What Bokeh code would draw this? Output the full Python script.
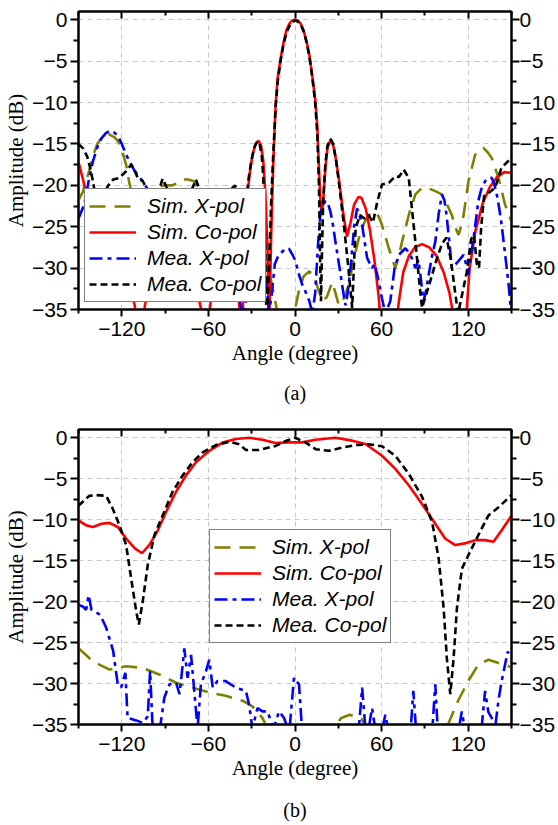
from bokeh.plotting import figure
from bokeh.models import (Range1d, LinearAxis, FixedTicker, Legend, LegendItem)
from bokeh.layouts import column
from bokeh.embed import file_html
from bokeh.resources import INLINE

# ---------------- data: panel (a) ----------------
a_simx_x = [-150, -147, -143, -140, -137, -133, -129, -125, -122, -119, -117, -115, -113, -110, -105, -100,
            -95, -90, -85, -82, -78, -74, -70, -67, -64, -60, -55, -50, -45, -40, -35, -30, -25, -22,
            -19, -16, -12, -8, -4, 0, 3, 6, 9.7, 13, 16, 19, 22, 25.8, 28, 30.4, 33, 37.3, 40, 44.2,
            48, 51, 55.7, 58, 60.3, 65, 69.5, 72, 74.2, 78.8, 83.4, 88, 93, 97.2, 101.8, 105, 108.7,
            111, 113.3, 115, 116.8, 120.2, 124.8, 128, 130.6, 133.5, 136.3, 141, 145.5, 150]
a_simx_y = [-21.8, -20.8, -18.5, -16.5, -15.0, -14.0, -13.8, -14.2, -14.8, -16.3, -17.5, -19.5, -21.0, -21.5,
            -21.0, -20.5, -20.2, -20.0, -20.0, -19.8, -19.3, -19.3, -19.5, -20.5, -22.0, -24.0, -26.0,
            -28.0, -30.0, -32.0, -34.0, -33.0, -31.0, -29.5, -29.5, -32.0, -35.5, -37.0, -36.0, -35.0,
            -32.5, -31.0, -30.4, -30.8, -32.5, -34.0, -33.5, -31.7, -33.0, -34.5, -34.0, -32.0, -29.5,
            -26.4, -24.5, -23.6, -23.2, -23.8, -24.8, -27.6, -30.0, -28.5, -26.8, -23.6, -21.1, -20.3,
            -20.4, -20.7, -21.1, -22.2, -23.6, -25.0, -26.0, -25.0, -23.6, -19.5, -16.3, -15.6, -15.5,
            -16.0, -16.7, -19.1, -22.3, -24.4]

a_simco_x = [-150, -147, -144, -140, -135, -130, -125, -120, -115, -111, -108, -104, -100, -95, -90, -85,
             -80, -75, -70, -65, -62, -58, -54, -50, -46, -42, -39, -37, -35, -33, -31, -29, -27, -25.3,
             -23.5, -22, -20.5, -19, -18, -16.5, -15, -13.4, -12, -10, -8, -6, -4, -2, 0, 2, 4, 6, 8,
             10, 12, 14, 15.5, 16.6, 17.5, 18.5, 19.5, 21, 22.5, 24.6, 26.5, 28.5, 31, 33.5, 36, 38.5,
             41, 44, 46, 49, 52, 55, 58, 60, 62, 66, 70, 72, 75, 79, 83, 88, 93, 98, 103, 107, 110, 113,
             117, 119, 121, 125, 130, 135, 140, 145, 150]
a_simco_y = [-17.2, -19.2, -21.5, -24.0, -26.5, -28.0, -29.0, -30.0, -32.0, -34.5, -42.0, -34.5, -31.0,
             -28.5, -27.0, -26.5, -27.0, -28.5, -31.0, -35.0, -42.0, -33.0, -28.0, -26.0, -26.0, -28.0,
             -33.0, -40.0, -28.0, -21.2, -18.0, -16.0, -14.9, -14.6, -15.2, -17.0, -21.0, -28.0, -38.0,
             -26.0, -17.0, -10.2, -7.0, -4.7, -2.8, -1.3, -0.5, -0.1, 0.0, -0.1, -0.5, -1.3, -2.6, -4.3,
             -6.8, -9.6, -13.0, -18.0, -21.5, -23.5, -22.0, -18.0, -15.5, -14.5, -15.2, -17.0, -20.0,
             -23.5, -26.2, -24.5, -22.3, -21.4, -21.5, -22.8, -25.5, -29.0, -33.5, -38.0, -45.0, -50.0,
             -37.0, -34.0, -30.5, -28.5, -27.5, -27.1, -27.5, -28.5, -30.5, -33.0, -36.0, -45.0, -40.0,
             -35.0, -30.0, -25.5, -22.2, -20.2, -19.0, -18.4, -18.5]

a_meax_x = [-150, -146, -143, -140, -137, -134, -131, -128.5, -125.5, -122.8, -120, -117, -114, -111, -108,
            -105.5, -102, -99, -95, -90, -80, -70, -60, -50, -40, -36, -30, -25, -22, -20, -18, -16, -14,
            -11.5, -8.75, -6, -4, -2, 0, 2.8, 5, 7.4, 10, 12, 14, 16, 17.7, 19.5, 21.2, 23, 24.6, 26.5,
            28, 31.6, 33.5, 35, 36.5, 38.5, 41, 43, 45, 46.5, 50, 53.4, 55, 57, 60.3, 62.6, 66, 69, 71.9,
            76.5, 80, 83.4, 85.5, 87, 89, 90.5, 92.6, 95, 97.2, 99.5, 101.8, 103.5, 105, 107, 108.7, 111,
            113, 116.8, 118.5, 120, 121.5, 123.7, 125.5, 127, 129, 131.7, 134, 136.3, 138, 139.8, 141.5,
            143.2, 145, 146.7, 148, 149, 150]
a_meax_y = [-24.0, -22.3, -19.5, -17.1, -15.4, -14.3, -13.7, -13.4, -13.6, -14.0, -15.0, -16.3, -17.3,
            -18.3, -19.0, -19.5, -20.5, -22.0, -24.0, -26.0, -28.0, -30.0, -27.0, -30.0, -33.0, -35.5,
            -31.0, -33.0, -34.0, -31.0, -35.5, -33.0, -29.5, -28.5, -28.0, -27.6, -27.7, -28.3, -29.0,
            -30.8, -32.0, -32.9, -34.0, -35.5, -33.0, -27.0, -23.2, -22.3, -21.9, -22.3, -23.2, -25.0,
            -26.8, -30.8, -33.0, -34.5, -33.0, -30.0, -25.0, -22.8, -23.8, -24.8, -28.8, -30.0, -29.5,
            -30.8, -33.7, -35.5, -34.0, -30.0, -28.4, -27.6, -28.4, -30.0, -29.0, -31.0, -34.0, -33.0,
            -30.8, -28.5, -26.8, -23.5, -21.1, -21.8, -23.6, -27.0, -30.0, -29.6, -29.2, -28.4, -29.5,
            -30.8, -29.0, -26.4, -24.0, -21.9, -20.5, -19.5, -19.1, -19.1, -19.8, -21.1, -22.8, -24.8,
            -27.5, -30.0, -32.0, -34.0, -35.5]

a_meaco_x = [-150, -147, -144, -142, -140, -138, -135, -132, -129.7, -126, -121.6, -117, -113.5, -111,
             -109, -105.5, -102, -99, -95, -91.7, -88, -84, -78, -74, -71, -68.6, -66, -62, -55, -48,
             -43.3, -41.5, -40, -37, -34, -32, -30, -28, -26, -24.5, -23, -22, -21, -20, -19.5, -18,
             -16.5, -15, -13.4, -12, -10, -8, -6, -4, -2, 0, 2, 4, 6, 8, 10, 12, 14, 15.5, 16.6, 17.5,
             18, 18.7, 19.5, 21, 22.5, 24.6, 26.5, 28.5, 31, 34, 37, 39.6, 41, 42, 45, 48, 51, 54, 57,
             60.3, 65, 69.5, 72, 75.3, 78.8, 81, 83.4, 86.8, 88, 93, 98, 102, 105, 108, 111, 113, 116,
             119, 122, 124, 126, 127.5, 129, 131, 135, 138.6, 143, 147, 150]
a_meaco_y = [-15.0, -15.5, -16.5, -17.8, -19.5, -21.5, -22.0, -21.0, -20.1, -19.3, -19.1, -18.3, -17.5,
             -18.2, -19.1, -19.5, -20.6, -22.0, -21.0, -19.2, -20.6, -22.0, -21.5, -21.0, -20.3, -19.3,
             -20.6, -23.0, -22.0, -21.0, -20.3, -20.0, -20.7, -24.0, -22.0, -19.0, -16.8, -15.3, -14.7,
             -15.0, -16.5, -19.0, -24.0, -34.0, -38.0, -30.0, -22.0, -16.0, -10.5, -7.5, -5.0, -3.0,
             -1.6, -0.8, -0.3, -0.1, -0.2, -0.6, -1.4, -2.7, -4.5, -7.0, -10.0, -14.0, -20.0, -30.0,
             -34.0, -28.0, -22.0, -17.5, -15.2, -14.4, -15.0, -17.0, -20.5, -25.0, -30.0, -34.8, -29.0,
             -25.2, -23.6, -24.0, -23.6, -24.5, -22.0, -19.9, -19.7, -18.9, -19.0, -18.1, -19.1, -22.8,
             -26.8, -32.9, -34.8, -32.0, -29.0, -27.0, -26.3, -29.0, -33.0, -35.5, -33.0, -30.5, -26.5,
             -26.0, -29.5, -30.0, -25.0, -21.3, -20.8, -20.3, -17.9, -17.2, -16.7]

# ---------------- data: panel (b) ----------------
b_simx_x = [-150, -140, -128.5, -117, -105.5, -94, -82.4, -71, -59.4, -48, -36.4, -29.5, -22.6, -19, -10,
            0, 10, 20, 27, 32, 38, 46, 50, 60, 80, 100, 106, 113, 120, 127, 134, 141, 148, 150]
b_simx_y = [-25.7, -27.3, -28.3, -27.9, -28.1, -28.9, -29.9, -30.5, -31.1, -31.5, -32.1, -32.8, -34.2,
            -35.5, -38.0, -40.0, -39.0, -37.0, -35.5, -34.2, -33.8, -34.3, -35.5, -38.0, -40.0, -37.0,
            -35.0, -32.1, -29.7, -27.7, -27.1, -27.5, -27.9, -28.0]

b_simco_x = [-150, -144.6, -140, -134, -128.5, -122.8, -117, -111, -106, -101, -95, -89.4, -82.4, -75.5,
             -68.6, -59.4, -50.2, -41, -31.8, -22.6, -13.4, -4.1, 5, 14.3, 28, 39.6, 48.8, 60.3, 69.5,
             78.8, 88, 97.2, 104, 111, 117.7, 124.8, 131.7, 137.5, 143.2, 150]
b_simco_y = [-10.1, -10.7, -10.9, -10.5, -10.4, -10.9, -12.3, -13.5, -14.1, -13.1, -11.3, -9.1, -6.6,
             -4.6, -3.0, -1.6, -0.6, -0.16, 0.0, -0.25, -0.65, -0.57, -0.57, -0.25, 0.0, -0.36, -0.77,
             -2.2, -3.8, -5.8, -8.1, -10.5, -12.3, -13.1, -12.9, -12.5, -12.5, -12.7, -11.3, -9.5]

b_meax_x = [-150, -147, -144.7, -143, -141, -135, -130.8, -126, -122.8, -120.5, -117.5, -116, -110, -105.5,
            -102, -100.4, -98.6, -94, -90.5, -87, -82.4, -80, -77.8, -76.7, -74.4, -72, -69.8, -67.5,
            -65.2, -61.7, -59.4, -57, -53.7, -48, -41, -34, -31.8, -29.5, -26, -22.6, -19, -15, -11,
            -7.6, -4, -0.7, 2.8, 5, 20, 30, 44, 46.5, 49, 51, 53.4, 56, 60, 62.6, 65, 75, 80, 82, 84,
            95, 97.2, 99, 113, 115.6, 118, 129, 131.7, 134, 136.3, 138.6, 141, 143.2, 147.4, 150]
b_meax_y = [-20.4, -20.6, -21.0, -19.2, -21.0, -21.6, -23.2, -26.0, -30.1, -30.5, -28.7, -34.2, -34.5,
            -34.8, -34.0, -28.5, -35.5, -36.0, -31.7, -30.1, -29.9, -31.3, -27.7, -25.7, -29.3, -26.5,
            -30.9, -35.5, -30.1, -28.5, -27.1, -30.5, -29.7, -29.7, -30.5, -30.9, -32.6, -35.5, -33.0,
            -33.4, -33.4, -35.5, -33.4, -34.2, -36.0, -29.3, -30.1, -36.0, -38.0, -37.0, -36.0, -30.5,
            -36.0, -35.5, -33.0, -36.0, -36.0, -33.8, -36.0, -38.0, -36.0, -30.9, -36.0, -36.0, -30.1,
            -36.0, -36.0, -33.4, -36.0, -36.0, -30.9, -33.5, -34.2, -35.5, -32.0, -29.7, -26.1, -26.9]

b_meaco_x = [-150, -142.6, -138, -130.8, -126.2, -121.6, -117, -113.5, -110, -108.2, -105.5, -102, -97.4,
             -91.7, -84.8, -77.8, -71, -64, -54.8, -45.6, -38.7, -34, -24.9, -13.4, -6.4, 0, 7.4, 14.3,
             23.5, 32.7, 41.9, 51, 60.3, 69.5, 78.8, 88, 95, 99.5, 103, 105.2, 107.6, 109.9, 112.2,
             115.6, 120.2, 127, 134, 141, 150]
b_meaco_y = [-8.3, -7.1, -7.0, -7.1, -8.7, -10.7, -13.1, -17.2, -21.2, -22.8, -20.0, -15.5, -11.9, -9.5,
             -6.6, -4.6, -3.0, -1.8, -0.9, -0.5, -0.8, -1.5, -1.5, -1.0, -0.4, 0.0, -0.6, -1.4, -1.6,
             -1.2, -0.9, -0.8, -1.05, -2.2, -4.4, -7.2, -10.3, -14.7, -20.8, -26.9, -31.3, -26.9, -20.8,
             -16.0, -14.3, -11.9, -9.5, -8.5, -7.0]

x_major = [-120, -60, 0, 60, 120]
x_minor = [-150, -90, -30, 30, 90, 150]
y_major = [0, -5, -10, -15, -20, -25, -30, -35]
y_minor = [-2.5, -7.5, -12.5, -17.5, -22.5, -27.5, -32.5]

names = ["Sim. X-pol", "Sim. Co-pol", "Mea. X-pol", "Mea. Co-pol"]
colors = ["#808000", "#ff0000", "#0000ff", "#000000"]
dashes = ["16 9", "solid", "13 5 4 5", "7 4"]

TICK_FONT = "Liberation Sans"
SERIF = "Liberation Serif"


def style_axis(ax):
    ax.axis_line_width = 2
    ax.axis_line_color = "black"
    ax.major_tick_line_width = 2
    ax.minor_tick_line_width = 2
    ax.major_tick_line_color = "black"
    ax.minor_tick_line_color = "black"
    ax.major_label_text_font = TICK_FONT
    ax.major_label_text_font_size = "21px"
    ax.major_label_text_color = "black"
    ax.axis_label_text_font = SERIF
    ax.axis_label_text_font_size = "21px"
    ax.axis_label_text_font_style = "normal"
    ax.axis_label_text_color = "black"


def make_panel(series, height, top, bottom, tag, tag_standoff, legend_loc):
    p = figure(width=558, height=height, output_backend="svg", toolbar_location=None,
               x_range=Range1d(-150, 150), y_range=Range1d(-35, 1),
               min_border_left=77, min_border_right=41, min_border_top=top,
               min_border_bottom=bottom, x_axis_location=None, y_axis_location=None)
    p.outline_line_color = "black"
    p.outline_line_width = 2
    p.background_fill_color = "white"
    p.border_fill_color = "white"

    xt = FixedTicker(ticks=x_major, minor_ticks=x_minor)
    yt = FixedTicker(ticks=y_major, minor_ticks=y_minor)

    xb = LinearAxis(ticker=xt, axis_label="Angle (degree)")
    style_axis(xb)
    xb.major_tick_in, xb.major_tick_out = 0, 7
    xb.minor_tick_in, xb.minor_tick_out = 0, 4
    xb.major_label_standoff = 5
    xb.axis_label_standoff = 2
    p.add_layout(xb, "below")

    # panel tag "(a)" / "(b)" as the label of a bare, tick-less axis below the first one
    tag_ax = LinearAxis(ticker=FixedTicker(ticks=[], minor_ticks=[]), axis_label=tag)
    style_axis(tag_ax)
    tag_ax.axis_line_color = None
    tag_ax.major_tick_in, tag_ax.major_tick_out = 0, 0
    tag_ax.minor_tick_in, tag_ax.minor_tick_out = 0, 0
    tag_ax.major_label_standoff = 0
    tag_ax.axis_label_standoff = tag_standoff
    tag_ax.axis_label_text_font_size = "20px"
    p.add_layout(tag_ax, "below")

    xa = LinearAxis(ticker=xt)
    style_axis(xa)
    xa.major_tick_in, xa.major_tick_out = 7, 0
    xa.minor_tick_in, xa.minor_tick_out = 4, 0
    xa.major_label_text_font_size = "0px"
    xa.major_label_standoff = 0
    xa.major_label_overrides = {t: "" for t in x_major}
    p.add_layout(xa, "above")

    yl = LinearAxis(ticker=yt, axis_label="Amplitude (dB)")
    style_axis(yl)
    yl.major_tick_in, yl.major_tick_out = 0, 8
    yl.minor_tick_in, yl.minor_tick_out = 0, 5
    yl.major_label_standoff = 3
    yl.axis_label_standoff = 1
    p.add_layout(yl, "left")

    yr = LinearAxis(ticker=yt)
    style_axis(yr)
    yr.major_tick_in, yr.major_tick_out = 0, 8
    yr.minor_tick_in, yr.minor_tick_out = 0, 5
    yr.major_label_standoff = 0
    yr.axis_label_standoff = 0
    p.add_layout(yr, "right")

    p.xgrid.ticker = FixedTicker(ticks=x_major)
    p.ygrid.ticker = FixedTicker(ticks=y_major)
    for g in (p.xgrid, p.ygrid):
        g.grid_line_color = "#c8c8c8"
        g.grid_line_dash = "5 4"
        g.grid_line_width = 1

    items = []
    for (xs, ys), name, c, d in zip(series, names, colors, dashes):
        r = p.line(xs, ys, line_color=c, line_width=2.6, line_dash=d)
        items.append(LegendItem(label=name, renderers=[r]))

    leg = Legend(items=items, location=legend_loc)
    leg.label_text_font = TICK_FONT
    leg.label_text_font_style = "italic"
    leg.label_text_font_size = "21px"
    leg.label_text_color = "black"
    leg.glyph_width = 47
    leg.glyph_height = 26
    leg.label_height = 26
    leg.label_standoff = 11
    leg.padding = 4
    leg.spacing = 0
    leg.margin = 0
    leg.border_line_color = "black"
    leg.border_line_width = 1.5
    leg.background_fill_alpha = 1
    p.add_layout(leg)
    return p


p1 = make_panel([(a_simx_x, a_simx_y), (a_simco_x, a_simco_y), (a_meax_x, a_meax_y),
                 (a_meaco_x, a_meaco_y)], 415, 11, 106, "(a)", 14, (6, 7))
p2 = make_panel([(b_simx_x, b_simx_y), (b_simco_x, b_simco_y), (b_meax_x, b_meax_y),
                 (b_meaco_x, b_meaco_y)], 410, 14, 101, "(b)", 16, (131, 81))

p = column(p1, p2, spacing=0)
open("out.html", "w").write(file_html(p, INLINE))
